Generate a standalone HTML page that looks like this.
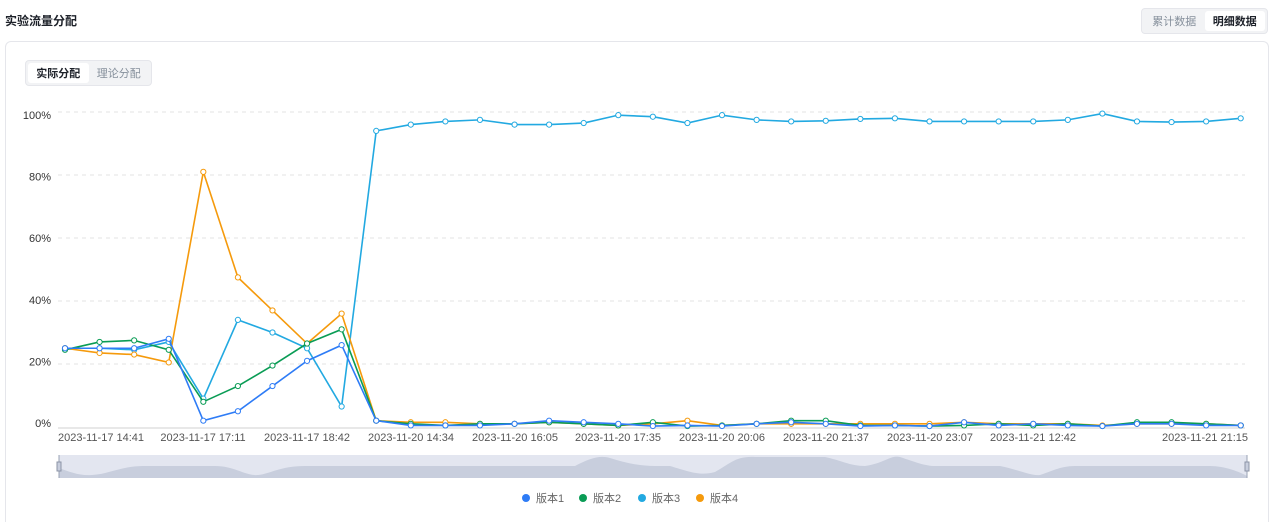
<!DOCTYPE html>
<html><head><meta charset="utf-8"><style>
html,body{margin:0;width:1280px;height:522px;overflow:hidden}
body{background:#fff;font-family:"Liberation Sans","Noto Sans CJK SC",sans-serif;position:relative}
.t{position:absolute;left:5px;top:12px;font-size:12px;color:#1d2129;font-weight:bold}
.card{position:absolute;left:5px;top:41px;width:1262px;height:480px;border:1px solid #e5e6eb;border-bottom:none;border-radius:6px 6px 0 0}
.tabs{position:absolute;display:flex;background:#f2f3f5;border:1px solid #e5e6eb;border-radius:4px;padding:2px;box-sizing:border-box}
.tabs div{flex:1;font-size:11px;color:#86909c;display:flex;align-items:center;justify-content:center;white-space:nowrap}
.tabs div.on{background:#fff;color:#1d2129;border-radius:3px;font-weight:bold}
svg{position:absolute;left:0;top:0}
</style></head><body>
<div class="t">实验流量分配</div>
<div class="tabs" style="left:1141px;top:8px;width:127px;height:26px"><div>累计数据</div><div class="on">明细数据</div></div>
<div class="card"></div>
<div class="tabs" style="left:25px;top:60px;width:127px;height:26px"><div class="on">实际分配</div><div>理论分配</div></div>
<svg id="s" width="1280" height="522" font-family="Liberation Sans, Noto Sans CJK SC, sans-serif"></svg>
<script>
const s=document.getElementById('s');let h='';
const y0=427,k=3.15,x0=65,dx=34.58;
[0,20,40,60,80,100].forEach(v=>{const y=y0-v*k;const ly=423-v*3.08;
if(v>0)h+=`<line x1="58" x2="1245" y1="${y}" y2="${y}" stroke="#e3e3e3" stroke-dasharray="4,4"/>`;
h+=`<text x="51" y="${ly+4}" font-size="11" fill="#333" text-anchor="end">${v}%</text>`;});
h+=`<line x1="58" x2="1245" y1="428" y2="428" stroke="#d0d0d0"/>`;
const L=[[58,'2023-11-17 14:41','start'],[203,'2023-11-17 17:11'],[307,'2023-11-17 18:42'],[411,'2023-11-20 14:34'],[515,'2023-11-20 16:05'],[618,'2023-11-20 17:35'],[722,'2023-11-20 20:06'],[826,'2023-11-20 21:37'],[930,'2023-11-20 23:07'],[1033,'2023-11-21 12:42'],[1248,'2023-11-21 21:15','end']];
L.forEach(([x,t,a])=>h+=`<text x="${x}" y="441" font-size="11" fill="#555" text-anchor="${a||'middle'}">${t}</text>`);
const D={
o:['#f59a0c',[25,23.5,23,20.5,81,47.5,37,26.5,36,2,1.5,1.5,1,1,1.5,1,0.5,1,2,0.5,1,1,1,1,1,1,1.5,1,1,1,0.5,1,1,1,0.5]],
g:['#0a9c55',[24.5,27,27.5,24.5,8,13,19.5,26.5,31,2,1,0.5,1,1,1.5,1,0.5,1.5,0.3,0.5,1,2,2,0.5,0.5,0.3,0.5,1,0.5,1,0.3,1.5,1.5,1,0.5]],
b:['#2e7cf6',[25,25,25,28,2,5,13,21,26,2,0.5,0.5,0.5,1,2,1.5,1,0.3,0.5,0.3,1,1.5,1,0.3,0.5,0.3,1.5,0.5,1,0.5,0.3,1,1,0.5,0.5]],
c:['#22a9e1',[25,25,24.5,27,9,34,30,25,6.5,94,96,97,97.5,96,96,96.5,99,98.5,96.5,99,97.5,97,97.2,97.8,98,97,97,97,97,97.5,99.5,97,96.8,97,98]]};
['c','o','g','b'].forEach(n=>{const [col,v]=D[n];const p=v.map((a,i)=>[x0+i*dx,y0-a*k]);
h+=`<polyline points="${p.map(q=>q.join(',')).join(' ')}" fill="none" stroke="${col}" stroke-width="1.6"/>`;
p.forEach(q=>h+=`<circle cx="${q[0]}" cy="${q[1]}" r="2.6" fill="#fff" stroke="${col}" stroke-width="1"/>`);});
h+=`<rect x="59" y="455" width="1188" height="23" fill="#e3e6f0"/>`;
h+=`<path d="M59 468 C70 472,80 476,92 475 C110 474,120 466,145 466 L215 466 C235 466,245 476,258 475 C270 474,280 466,305 466 L430 466 C445 466,560 466,575 466 C590 458,600 455,610 458 C625 463,640 466,655 466 L670 466 C690 472,700 476,715 472 C730 464,735 456,755 457 L825 457 C840 460,850 466,865 466 C885 463,890 455,900 457 C915 462,925 466,935 466 L1000 466 C1020 470,1030 476,1040 475 C1050 472,1060 466,1075 466 L1210 466 C1225 466,1240 472,1247 476 L1247 478 L59 478 Z" fill="#c8cedd"/>`;
h+=`<line x1="59" x2="59" y1="455" y2="478" stroke="#9aa3b5"/><rect x="57" y="462" width="4" height="9" fill="#c8cedd" stroke="#8c94a6"/>`;
h+=`<line x1="1247" x2="1247" y1="455" y2="478" stroke="#9aa3b5"/><rect x="1245" y="462" width="4" height="9" fill="#c8cedd" stroke="#8c94a6"/>`;
[[526,'#2e7cf6','版本1'],[583,'#0a9c55','版本2'],[642,'#22a9e1','版本3'],[700,'#f59a0c','版本4']].forEach(([x,c,t])=>{
h+=`<circle cx="${x}" cy="498" r="4" fill="${c}"/><text x="${x+10}" y="502" font-size="11" fill="#666">${t}</text>`;});
s.innerHTML=h;
</script>
</body></html>
